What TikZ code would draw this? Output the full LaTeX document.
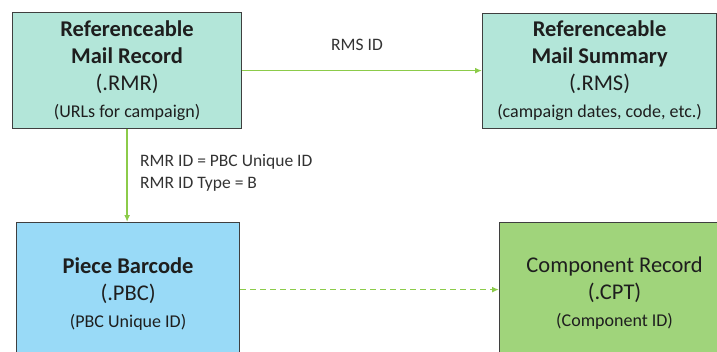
\documentclass[tikz,border=0pt]{standalone}
\usepackage{fontspec}
\setmainfont{Carlito}
\usetikzlibrary{arrows.meta}
\definecolor{mint}{HTML}{B3E6D9}
\definecolor{hblau}{HTML}{99DAF7}
\definecolor{gruen}{HTML}{A0D47B}
\definecolor{linie}{HTML}{8CCB4A}
\definecolor{rahmen}{HTML}{3F3F3F}
\definecolor{schrift}{HTML}{1E1E1E}
\definecolor{grau}{HTML}{333333}
\tikzset{
  kasten/.style={draw=rahmen,line width=1.2pt,align=center,inner sep=0pt,anchor=north west,text=schrift,font=\fontsize{22.5}{27}\selectfont},
  pfeil/.style={-{Latex[length=2.4mm,width=2mm]},linie,line width=1.3pt},
  pfeilg/.style={pfeil,line width=1.5pt,dash pattern=on 6pt off 4pt},
  beschr/.style={grau,font=\fontsize{17.5}{22}\selectfont,inner sep=0pt},
}
\newcommand{\klein}[1]{{\fontsize{18}{24}\selectfont #1}}

\begin{document}
\begin{tikzpicture}[x=1pt,y=-1pt]
  \useasboundingbox (0,0) rectangle (717,352);
  \clip (0,0) rectangle (717,352);
  \node[kasten,fill=mint,minimum width=229pt,minimum height=116pt,text depth=2pt] (rmr) at (12,12)
    {\textbf{Referenceable}\\\textbf{Mail Record}\\(.RMR)\\\klein{(URLs for campaign)}};
  \node[kasten,fill=mint,minimum width=234pt,minimum height=115pt] (rms) at (482,13)
    {\textbf{Referenceable}\\\textbf{Mail Summary}\\(.RMS)\\\klein{(campaign dates, code, etc.)}};
  \node[kasten,fill=hblau,minimum width=223pt,minimum height=142pt] (pbc) at (16,222)
    {\textbf{Piece Barcode}\\(.PBC)\\\klein{(PBC Unique ID)}};
  \node[kasten,fill=gruen,minimum width=230pt,minimum height=142pt] (cpt) at (499,222)
    {Component Record\\(.CPT)\\\klein{(Component ID)}};
  \draw[pfeil] (rmr.east) -- (rmr.east -| rms.west);
  \draw[pfeil] (rmr.south) -- (rmr.south |- pbc.north);
  \draw[pfeilg] ([yshift=4pt]pbc.east) -- ([yshift=4pt]pbc.east -| cpt.west);
  \node[beschr] (rmsid) at (357,45) {RMS ID};
  \node[beschr,anchor=west,align=left] (rmrid) at (140,173) {RMR ID = PBC Unique ID\\RMR ID Type = B};
\end{tikzpicture}
\end{document}
